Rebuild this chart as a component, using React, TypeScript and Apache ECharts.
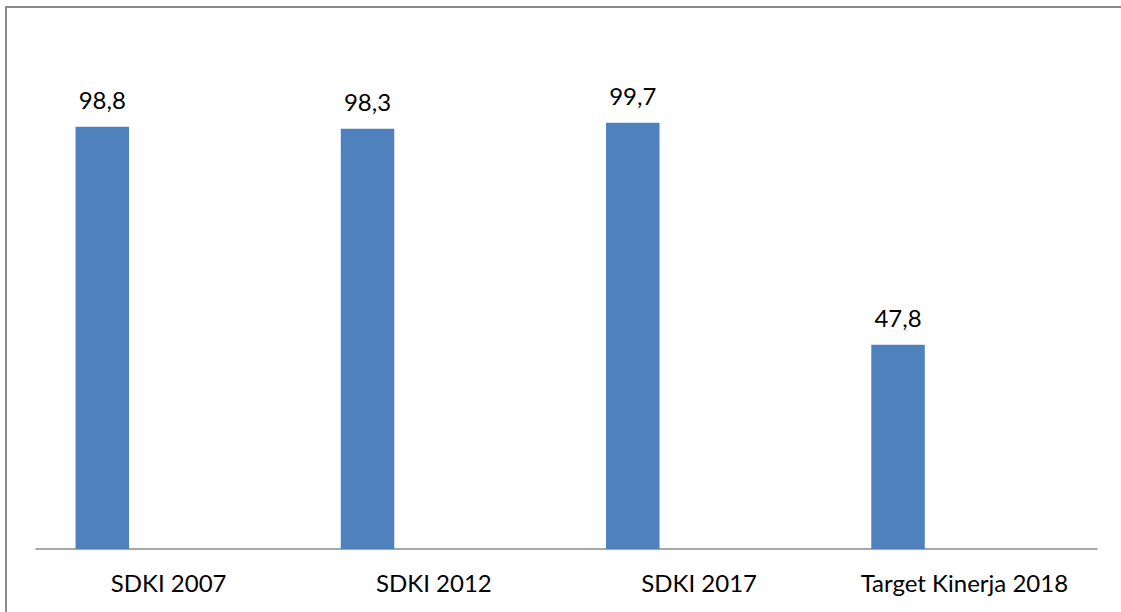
import React, { useEffect, useRef } from "react";
import * as echarts from "echarts";

const categories = ["SDKI 2007", "SDKI 2012", "SDKI 2017", "Target Kinerja 2018"];
const values = [98.8, 98.3, 99.7, 47.8];
const emptySeries = [null, null, null, null];

export default function App() {
  const ref = useRef<HTMLDivElement>(null);
  useEffect(() => {
    document.body.style.margin = "0";
    const chart = echarts.init(ref.current!, null, { renderer: "svg" });
    chart.setOption({
      animation: false,
      backgroundColor: "#ffffff",
      textStyle: { fontFamily: "Lato" },
      grid: { left: 36, right: 24, top: 36, bottom: 63, containLabel: false },
      graphic: [
        {
          type: "rect",
          silent: true,
          shape: { x: 6, y: 7, width: 1300, height: 800 },
          style: { fill: "none", stroke: "#8a8a8a", lineWidth: 2 },
        },
      ],
      xAxis: {
        type: "category",
        data: categories,
        axisLine: { show: true, lineStyle: { color: "#8a8a8a", width: 1.5 } },
        axisTick: { show: false },
        axisLabel: { color: "#000", fontSize: 24, fontFamily: "Lato", margin: 21, interval: 0 },
      },
      yAxis: {
        type: "value",
        min: 0,
        max: 120,
        interval: 20,
        show: false,
        splitLine: { show: false },
      },
      series: [
        {
          type: "bar",
          data: values,
          barWidth: 53.5,
          barGap: "148%",
          itemStyle: { color: "#4f81bd" },
          label: {
            show: true,
            position: "top",
            distance: 15,
            color: "#000",
            fontSize: 24,
            fontFamily: "Lato",
            formatter: (p: any) => String(p.value).replace(".", ","),
          },
        },
        {
          type: "bar",
          data: emptySeries,
          barWidth: 53.5,
          itemStyle: { color: "#c0504d" },
        },
      ],
    });
    return () => chart.dispose();
  }, []);
  return (
    <div
      ref={ref}
      style={{ position: "fixed", left: 0, top: 0, width: 1121, height: 612 }}
    />
  );
}
